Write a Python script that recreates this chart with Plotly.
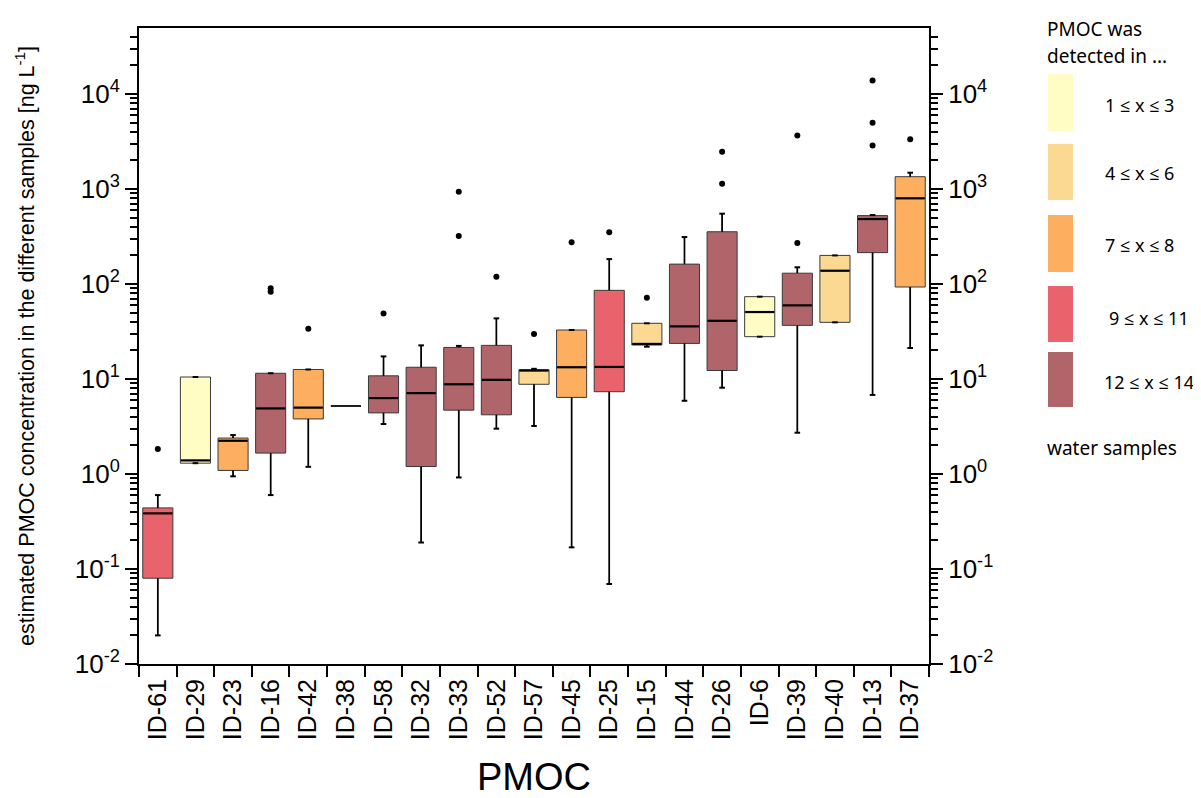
import plotly.graph_objects as go

# ---------------- data ----------------
categories = ["ID-61", "ID-29", "ID-23", "ID-16", "ID-42", "ID-38", "ID-58", "ID-32", "ID-33", "ID-52",
              "ID-57", "ID-45", "ID-25", "ID-15", "ID-44", "ID-26", "ID-6", "ID-39", "ID-40", "ID-13", "ID-37"]
lower_whisker = [0.020, 1.30, 0.945, 0.60, 1.19, 5.2, 3.36, 0.19, 0.92, 3.0,
                 3.2, 0.169, 0.0695, 21.9, 5.9, 8.1, 27.9, 2.72, 39.5, 6.8, 21.2]
q1_values = [0.080, 1.30, 1.09, 1.66, 3.8, 5.2, 4.4, 1.2, 4.7, 4.2,
             8.8, 6.4, 7.35, 22.8, 23.7, 12.3, 27.9, 36.7, 39.5, 214, 93]
median_values = [0.385, 1.39, 2.24, 4.9, 5.0, 5.2, 6.3, 7.1, 8.8, 9.8,
                 12.3, 13.3, 13.4, 23.4, 35.8, 41, 50.7, 59.6, 138, 483, 798]
q3_values = [0.44, 10.5, 2.39, 11.5, 12.6, 5.2, 10.8, 13.3, 21.5, 22.6,
             12.5, 32.8, 85.8, 38.6, 162, 355, 73.6, 130, 200, 525, 1348]
upper_whisker = [0.60, 10.5, 2.57, 11.5, 12.6, 5.2, 17.3, 22.6, 22.3, 43.5,
                 12.8, 32.8, 183, 38.6, 312, 550, 73.6, 150, 200, 532, 1485]
# detection class (index into legend classes); -1 = single value, no box
detection_class = [3, 0, 2, 4, 2, -1, 4, 4, 4, 4, 1, 2, 3, 1, 4, 4, 0, 4, 1, 4, 2]

outlier_ids = ["ID-61", "ID-16", "ID-16", "ID-42", "ID-58", "ID-33", "ID-33", "ID-52", "ID-57", "ID-45",
               "ID-25", "ID-15", "ID-26", "ID-26", "ID-39", "ID-39", "ID-13", "ID-13", "ID-13", "ID-37"]
outlier_values = [1.83, 90, 83, 33.8, 49, 937, 320, 119, 29.8, 275,
                  350, 71.8, 2470, 1138, 3670, 270, 13900, 4990, 2880, 3335]

class_labels = ["1 \u2264 x \u2264 3", "4 \u2264 x \u2264 6", "7 \u2264 x \u2264 8", "9 \u2264 x \u2264 11", "12 \u2264 x \u2264 14"]
class_colors = ["#FFFDC4", "#FCD993", "#FDAE5E", "#E8636B", "#B0656A"]

y_tick_vals = [1e-2, 1e-1, 1e0, 1e1, 1e2, 1e3, 1e4]
y_tick_text = ["10<sup>-2</sup>", "10<sup>-1</sup>", "10<sup>0</sup>", "10<sup>1</sup>",
               "10<sup>2</sup>", "10<sup>3</sup>", "10<sup>4</sup>"]

# ---------------- figure ----------------
# page body has an 8px margin: figure is drawn at (8, 8) in the window
OFF = 8
W, H = 1201 - OFF, 798 - OFF
ML, MT = 139 - OFF, 28 - OFF
MR, MB = W - (929 - OFF), H - (664 - OFF)
FONT = "Arial, Liberation Sans, sans-serif"
PW, PH = W - ML - MR, H - MT - MB
BOX_FRAC = 0.8
box_px = BOX_FRAC * PW / len(categories)

fig = go.Figure()

for i, cat in enumerate(categories):
    cls = detection_class[i]
    fill = class_colors[cls] if cls >= 0 else "rgba(255,255,255,0)"
    fig.add_trace(go.Box(
        x=[cat], q1=[q1_values[i]], median=[median_values[i]], q3=[q3_values[i]],
        lowerfence=[lower_whisker[i]], upperfence=[upper_whisker[i]],
        fillcolor=fill, line=dict(color="#3a3a3a" if cls >= 0 else "black", width=1),
        whiskerwidth=0, width=BOX_FRAC, boxpoints=False, showlegend=False, hoverinfo="skip",
    ))

# whisker lines redrawn in black
for i, cat in enumerate(categories):
    if q1_values[i] == q3_values[i]:
        continue
    for a, b in ((lower_whisker[i], q1_values[i]), (q3_values[i], upper_whisker[i])):
        if a != b:
            fig.add_trace(go.Scatter(x=[cat, cat], y=[a, b], mode="lines", showlegend=False,
                                     hoverinfo="skip", line=dict(color="black", width=1.7)))

# thick medians (line-ew marker length = 1.4 * size)
med_x = [c for c, a, b in zip(categories, q1_values, q3_values) if a != b]
med_y = [m for m, a, b in zip(median_values, q1_values, q3_values) if a != b]
fig.add_trace(go.Scatter(
    x=med_x, y=med_y, mode="markers", showlegend=False, hoverinfo="skip",
    marker=dict(symbol="line-ew", size=(box_px - 1) / 1.4, line=dict(color="black", width=2.2)),
))

# whisker caps
cap_x = [c for c, a, b in zip(categories, q1_values, q3_values) if a != b] * 2
cap_y = ([v for v, a, b in zip(lower_whisker, q1_values, q3_values) if a != b] +
         [v for v, a, b in zip(upper_whisker, q1_values, q3_values) if a != b])
fig.add_trace(go.Scatter(
    x=cap_x, y=cap_y, mode="markers", showlegend=False, hoverinfo="skip",
    marker=dict(symbol="line-ew", size=4, line=dict(color="black", width=2)),
))

# outliers
fig.add_trace(go.Scatter(
    x=outlier_ids, y=outlier_values, mode="markers", showlegend=False, hoverinfo="skip",
    marker=dict(symbol="circle", size=6, color="black"),
))

# dummy trace for right axis
fig.add_trace(go.Scatter(x=[categories[0]], y=[1], yaxis="y2", mode="markers",
                         marker=dict(opacity=0), showlegend=False, hoverinfo="skip"))

y_range = [-2, 4.695]
minor_vals = [m * 10 ** k for k in range(-2, 5) for m in range(2, 10) if m * 10 ** k < 49000]

yaxis_common = dict(
    type="log", range=y_range, tickmode="array", tickvals=y_tick_vals, ticktext=y_tick_text,
    ticks="outside", ticklen=12, tickwidth=2, tickcolor="black", automargin=False,
    showline=True, linecolor="black", linewidth=2, showgrid=False, zeroline=False,
    tickfont=dict(family=FONT, size=26, color="black"),
    minor=dict(tickmode="array", tickvals=minor_vals, ticks="outside", ticklen=7,
               tickwidth=1.5, tickcolor="black", showgrid=False),
)

fig.update_layout(
    width=W, height=H,
    margin=dict(l=ML, r=MR, t=MT, b=MB, pad=0, autoexpand=False),
    paper_bgcolor="white", plot_bgcolor="white",
    font=dict(family=FONT, color="black"),
    boxmode="overlay",
    xaxis=dict(
        type="category", categoryorder="array", categoryarray=categories, range=[-0.5, 20.5],
        tickson="boundaries", ticks="outside", ticklen=11, tickwidth=2, tickcolor="black",
        showline=True, linecolor="black", linewidth=2, mirror=True, showgrid=False, automargin=False,
        tickangle=-90, tickfont=dict(family=FONT, size=25, color="black"), ticklabelstandoff=3,
        title=dict(text="PMOC", font=dict(family=FONT, size=38, color="black"), standoff=35),
    ),
    yaxis=dict(
        **yaxis_common,
        title=dict(text="estimated PMOC concentration in the different samples [ng L<sup>-1</sup>]",
                   font=dict(family=FONT, size=21.5, color="black"), standoff=34),
    ),
    yaxis2=dict(**yaxis_common, overlaying="y", side="right", anchor="x"),
)

# ---------------- custom legend ----------------


def px(x):
    return (x - OFF - ML) / PW


def py(y):
    return (H - MB - (y - OFF)) / PH


LFONT = "Noto Sans, Open Sans, sans-serif"
legend_boxes = [(74, 131), (144, 200), (215, 272), (286, 342), (352, 407)]
legend_text_y = [105, 173, 245, 318, 382]
legend_text_x = [1103, 1103, 1103, 1107, 1102]
for (y0, y1), tx, ty, lab, col in zip(legend_boxes, legend_text_x, legend_text_y, class_labels, class_colors):
    fig.add_shape(type="rect", xref="paper", yref="paper", x0=px(1048), x1=px(1073),
                  y0=py(y1), y1=py(y0), fillcolor=col, line=dict(width=0), layer="above")
    fig.add_annotation(xref="paper", yref="paper", x=px(tx), y=py(ty), text=lab,
                       showarrow=False, xanchor="left", yanchor="middle",
                       font=dict(family=LFONT, size=18, color="black"))

for txt, ty in (("PMOC was", 29), ("detected in ...", 56), ("water samples", 448)):
    fig.add_annotation(xref="paper", yref="paper", x=px(1045), y=py(ty), text=txt,
                       showarrow=False, xanchor="left", yanchor="middle",
                       font=dict(family=LFONT, size=19, color="black"))

fig.write_html("out.html")
